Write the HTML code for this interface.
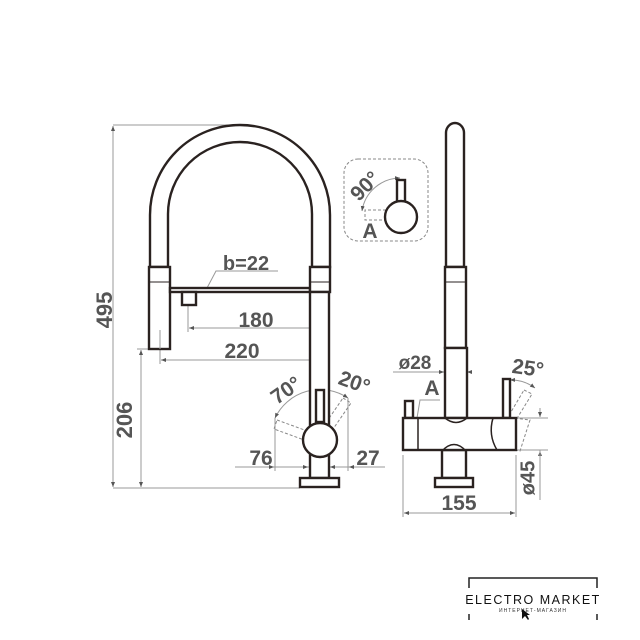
<!DOCTYPE html>
<html><head><style>
html,body{margin:0;padding:0;background:#fff;}
svg{display:block;}
text{font-family:"Liberation Sans",sans-serif;font-weight:bold;fill:#555;}
</style></head><body>
<svg width="640" height="640" viewBox="0 0 640 640" xmlns="http://www.w3.org/2000/svg">
<defs>
<marker id="a" viewBox="0 0 10 10" refX="10" refY="5" markerWidth="5" markerHeight="5" orient="auto-start-reverse"><path d="M0,1 L10,5 L0,9z" fill="#555"/></marker>
</defs>
<g stroke="#999" stroke-width="1" fill="none">
<line x1="113" y1="125" x2="240" y2="125"/>
<line x1="113" y1="488" x2="300" y2="488"/>
<line x1="113" y1="126" x2="113" y2="487" marker-start="url(#a)" marker-end="url(#a)"/>
<line x1="137" y1="349" x2="150" y2="349"/>
<line x1="141" y1="350" x2="141" y2="487" marker-start="url(#a)" marker-end="url(#a)"/>
<line x1="188" y1="305" x2="188" y2="332"/>
<line x1="320" y1="292" x2="320" y2="364"/>
<line x1="189" y1="328" x2="319" y2="328" marker-start="url(#a)" marker-end="url(#a)"/>
<line x1="160" y1="340" x2="160" y2="364"/>
<line x1="161" y1="360" x2="319" y2="360" marker-start="url(#a)" marker-end="url(#a)"/>
<polyline points="207,288 216,271 278,271"/>
<line x1="275" y1="418" x2="275" y2="471"/>
<line x1="348" y1="398" x2="348" y2="471"/>
<line x1="235" y1="467" x2="385" y2="467"/>
<line x1="262" y1="467" x2="274" y2="467" marker-end="url(#a)"/>
<line x1="300" y1="467" x2="308" y2="467" marker-end="url(#a)"/>
<line x1="340" y1="467" x2="330" y2="467" marker-end="url(#a)"/>
<line x1="360" y1="467" x2="349" y2="467" marker-end="url(#a)"/>
<path d="M275,418 A50,50 0 0 1 348,398" marker-start="url(#a)" marker-end="url(#a)"/>
<line x1="393" y1="372" x2="444" y2="372" marker-end="url(#a)"/>
<line x1="472" y1="372" x2="467" y2="372" marker-end="url(#a)"/>
<polyline points="417,418 420,400 440,400"/>
<path d="M510,380 A40,40 0 0 1 535,388" marker-start="url(#a)" marker-end="url(#a)"/>
<line x1="403" y1="455" x2="403" y2="517"/>
<line x1="516" y1="455" x2="516" y2="517"/>
<line x1="404" y1="513" x2="515" y2="513" marker-start="url(#a)" marker-end="url(#a)"/>
<line x1="516" y1="418" x2="548" y2="418"/>
<line x1="516" y1="450" x2="548" y2="450"/>
<line x1="540" y1="408" x2="540" y2="417" marker-end="url(#a)"/>
<line x1="540" y1="470" x2="540" y2="451" marker-end="url(#a)"/>
<line x1="540" y1="450" x2="540" y2="500"/>
<path d="M362,211 A39,39 0 0 1 400,178" marker-start="url(#a)" marker-end="url(#a)"/>
</g>
<g stroke="#888" stroke-width="1" fill="none" stroke-dasharray="3,2">
<rect x="344" y="159" width="84" height="82" rx="14"/>
<polyline points="386,210 365,210 365,220 386,220"/>
<polygon points="277,420 310,432 307,441 274,429"/>
<polygon points="343,398 351,403 331,432 323,427"/>
<polygon points="505,417 530,420 520,451 496,446"/>
<polygon points="524,390 532,394 516,420 508,417"/>
</g>
<g stroke="#2a2220" stroke-width="2.4" fill="#fff">
<path d="M150,267 L150,215 A90,90 0 0 1 330,215 L330,267 L312,267 L312,214 A72,72 0 0 0 168,214 L168,267 Z"/>
<rect x="149" y="267" width="21" height="82"/>
<line x1="149" y1="282" x2="170" y2="282" stroke-width="1"/>
<line x1="160" y1="330" x2="160" y2="349" stroke-width="1" stroke="#999"/>
<rect x="170" y="288" width="140" height="4"/>
<rect x="182" y="292" width="14" height="13"/>
<rect x="310" y="267" width="20" height="25"/>
<line x1="310" y1="282" x2="330" y2="282" stroke-width="1"/>
<rect x="310" y="292" width="19" height="186"/>
<rect x="300" y="478" width="39" height="9"/>
<rect x="316" y="390" width="8" height="32"/>
<circle cx="320" cy="440" r="17"/>
<path d="M446,267 L446,133 A9,10 0 0 1 464,133 L464,267 Z"/>
<rect x="445" y="267" width="21" height="81"/>
<line x1="445" y1="282" x2="466" y2="282" stroke-width="1"/>
<rect x="445" y="348" width="22" height="70"/>
<rect x="405" y="401" width="8" height="17"/>
<rect x="503" y="379" width="7" height="39"/>
<rect x="442" y="450" width="24" height="28"/>
<rect x="435" y="478" width="38" height="9"/>
<rect x="403" y="418" width="113" height="32"/>
<path d="M445,418 Q456,427 467,418" fill="none" stroke-width="1.5"/>
<path d="M442,451 Q454,438 466,451" fill="none" stroke-width="1.5"/>
<line x1="418" y1="418" x2="418" y2="450" stroke-width="1.5"/>
<path d="M493,418 Q488,435 497,450" fill="none" stroke-width="1.5"/>
<rect x="397" y="180" width="8" height="22"/>
<circle cx="401" cy="217" r="16"/>
</g>
<text x="106" y="310" font-size="22" text-anchor="middle" transform="rotate(-90 106 310)" dominant-baseline="middle">495</text>
<text x="126" y="420" font-size="22" text-anchor="middle" transform="rotate(-90 126 420)" dominant-baseline="middle">206</text>
<text x="246" y="270" font-size="20" text-anchor="middle">b=22</text>
<text x="256" y="327" font-size="21" text-anchor="middle">180</text>
<text x="242" y="358" font-size="21" text-anchor="middle">220</text>
<text x="261" y="465" font-size="21" text-anchor="middle">76</text>
<text x="368" y="465" font-size="21" text-anchor="middle">27</text>
<text x="290" y="396" font-size="21" text-anchor="middle" transform="rotate(-35 290 396)">70°</text>
<text x="352" y="389" font-size="21" text-anchor="middle" transform="rotate(20 352 389)">20°</text>
<text x="415" y="369" font-size="19" text-anchor="middle">ø28</text>
<text x="432" y="395" font-size="21" text-anchor="middle">A</text>
<text x="527" y="375" font-size="21" text-anchor="middle" transform="rotate(8 527 375)">25°</text>
<text x="459" y="510" font-size="21" text-anchor="middle">155</text>
<text x="529" y="478" font-size="20" text-anchor="middle" transform="rotate(-90 529 478)" dominant-baseline="middle">ø45</text>
<text x="370" y="191" font-size="21" text-anchor="middle" transform="rotate(-45 370 191)">90°</text>
<text x="370" y="238" font-size="21" text-anchor="middle">A</text>
<polyline points="469,588 469,578 597,578 597,588" fill="none" stroke="#222" stroke-width="1.5"/>
<line x1="469" y1="614" x2="469" y2="620" stroke="#222" stroke-width="1.5"/>
<line x1="597" y1="614" x2="597" y2="620" stroke="#222" stroke-width="1.5"/>
<text x="533" y="604" font-size="12.5" text-anchor="middle" style="font-weight:normal;fill:#111;letter-spacing:1.5px">ELECTRO MARKET</text>
<text x="533" y="612" font-size="5" text-anchor="middle" style="font-weight:normal;fill:#333;letter-spacing:1px">ИНТЕРНЕТ-МАГАЗИН</text>
<path d="M522,609 L522,619 L525,616 L528,620 L529,619 L527,615 L530,615 Z" fill="#111"/>
</svg>
</body></html>
